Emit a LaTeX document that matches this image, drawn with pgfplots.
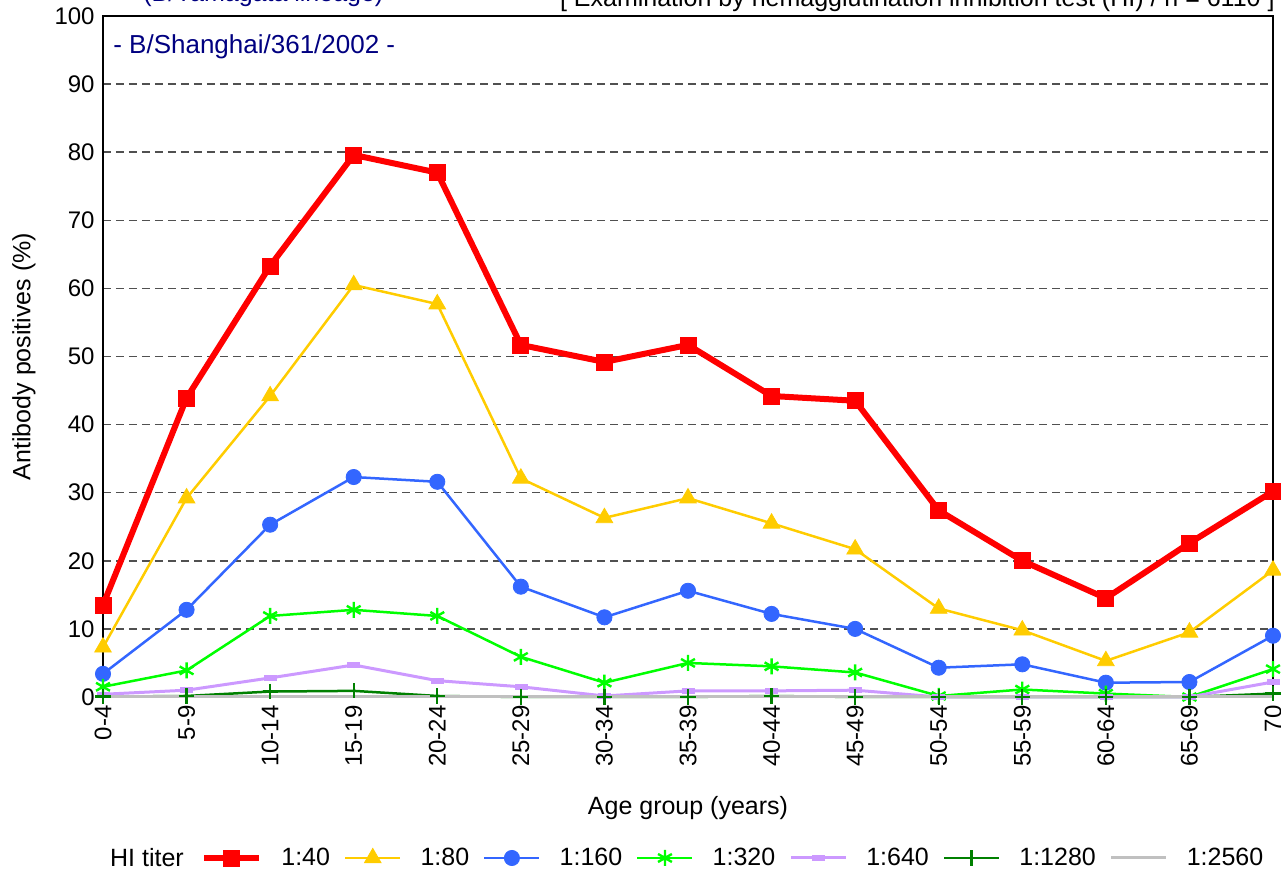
\documentclass[border=0pt]{standalone}
\usepackage{pgfplots}
\pgfplotsset{compat=1.18}
\usepackage{fontspec}
\setmainfont{Liberation Sans}
\definecolor{c40}{RGB}{255,0,0}
\definecolor{c80}{RGB}{255,204,0}
\definecolor{c160}{RGB}{51,102,255}
\definecolor{c320}{RGB}{0,255,0}
\definecolor{c640}{RGB}{204,153,255}
\definecolor{c1280}{RGB}{0,128,0}
\definecolor{c2560}{RGB}{192,192,192}
\definecolor{navyt}{RGB}{0,0,128}
\definecolor{gridc}{RGB}{80,80,80}
\begin{document}
\begin{tikzpicture}
\useasboundingbox (-51.5pt,-87.5pt) rectangle (589pt,348.5pt);
\clip (-51.5pt,-87.5pt) rectangle (589pt,348.5pt);
\begin{axis}[
  at={(0pt,0pt)}, anchor=south west,
  scale only axis, width=585pt, height=340.5pt,
  xmin=0, xmax=14, ymin=0, ymax=100,
  /pgf/number format/assume math mode=true,
  xtick={0,...,14},
  xticklabels={0-4,5-9,10-14,15-19,20-24,25-29,30-34,35-39,40-44,45-49,50-54,55-59,60-64,65-69,70},
  ytick={0,10,...,100},
  major tick length=0pt,
  xticklabel shift=4pt, yticklabel shift=4pt,
  x tick label style={rotate=90, anchor=east, inner sep=0pt, font=\fontsize{12}{14}\selectfont},
  y tick label style={inner sep=0pt, font=\fontsize{12}{14}\selectfont},
  ymajorgrids,
  grid style={gridc, line width=0.75pt, dash pattern=on 4pt off 2.5pt},
  axis line style={black, line width=0.75pt},
  clip=false,
  xlabel={Age group (years)},
  ylabel={Antibody positives (\%)},
  every axis x label/.style={at={(axis description cs:0.5,-0.163)}, anchor=center, font=\fontsize{12.5}{15}\selectfont},
  every axis y label/.style={at={(axis description cs:-0.0675,0.5)}, rotate=90, anchor=center, font=\fontsize{12.5}{15}\selectfont},
  legend columns=7,
  legend style={draw=none, fill=none, at={(axis description cs:0.0786,-0.2364)}, anchor=west,
    font=\fontsize{12.5}{15}\selectfont,
    /tikz/every odd column/.append style={column sep=7.5pt},
    /tikz/every even column/.append style={column sep=5pt}},
  legend image code/.code={\draw[mark repeat=2,mark phase=2] plot coordinates {(0pt,0pt)(13.75pt,0pt)(27.5pt,0pt)};},
]
\addplot[c40, line width=3pt, mark=square*, mark size=4pt, mark options={solid, line width=0.4pt}] coordinates {
(0,13.5)(1,43.9)(2,63.3)(3,79.6)(4,77.0)(5,51.7)(6,49.2)(7,51.7)(8,44.2)(9,43.5)(10,27.4)(11,20.0)(12,14.5)(13,22.6)(14,30.2)};
\addlegendentry{1:40}
\addplot[c80, line width=1.25pt, mark=triangle*, mark size=4.8pt, mark options={solid, line width=0.4pt}] coordinates {
(0,7.3)(1,29.2)(2,44.2)(3,60.5)(4,57.7)(5,32.1)(6,26.3)(7,29.2)(8,25.5)(9,21.7)(10,13.0)(11,9.8)(12,5.3)(13,9.5)(14,18.6)};
\addlegendentry{1:80}
\addplot[c160, line width=1.25pt, mark=*, mark size=3.8pt, mark options={solid, line width=0.4pt}] coordinates {
(0,3.4)(1,12.8)(2,25.3)(3,32.3)(4,31.6)(5,16.2)(6,11.7)(7,15.6)(8,12.2)(9,10.0)(10,4.3)(11,4.8)(12,2.1)(13,2.2)(14,9.0)};
\addlegendentry{1:160}
\addplot[c320, line width=1.25pt, mark=asterisk, mark size=4pt, mark options={solid, line width=1.2pt}] coordinates {
(0,1.5)(1,3.9)(2,11.9)(3,12.8)(4,11.9)(5,5.9)(6,2.1)(7,5.0)(8,4.5)(9,3.6)(10,0.15)(11,1.1)(12,0.5)(13,0)(14,4.1)};
\addlegendentry{1:320}
\addplot[c640, line width=1.5pt, mark=square*, mark size=3pt, mark options={solid, yscale=0.4, line width=0.3pt}] coordinates {
(0,0.4)(1,1.0)(2,2.8)(3,4.7)(4,2.4)(5,1.5)(6,0.15)(7,0.9)(8,0.9)(9,1.0)(10,0)(11,0)(12,0)(13,0)(14,2.2)};
\addlegendentry{1:640}
\addplot[c1280, line width=1.25pt, mark=+, mark size=3.8pt, mark options={solid, line width=1.2pt}] coordinates {
(0,0.05)(1,0.15)(2,0.8)(3,0.9)(4,0.15)(5,0)(6,0)(7,0)(8,0.15)(9,0)(10,0)(11,0)(12,0)(13,0)(14,0.5)};
\addlegendentry{1:1280}
\addplot[c2560, line width=1.5pt, mark=none] coordinates {
(0,0)(1,0)(2,0)(3,0)(4,0)(5,0)(6,0)(7,0)(8,0)(9,0)(10,0)(11,0)(12,0)(13,0)(14,0)};
\addlegendentry{1:2560}
\node[anchor=west, text=navyt, font=\fontsize{13}{15}\selectfont, inner sep=0pt] at (axis description cs:0.0085,0.9545) {- B/Shanghai/361/2002 -};
\node[anchor=center, font=\fontsize{12.5}{15}\selectfont] at (axis description cs:0.0376,-0.2364) {HI titer};
\end{axis}
\node[anchor=base west, text=navyt, font=\fontsize{12.5}{15}\selectfont, inner sep=0pt] at (20pt,347.5pt) {(B/Yamagata lineage)};
\node[anchor=base east, font=\fontsize{12.5}{15}\selectfont, inner sep=0pt] at (586pt,345pt) {[ Examination by hemagglutination inhibition test (HI) / n = 6110 ]};
\end{tikzpicture}
\end{document}
